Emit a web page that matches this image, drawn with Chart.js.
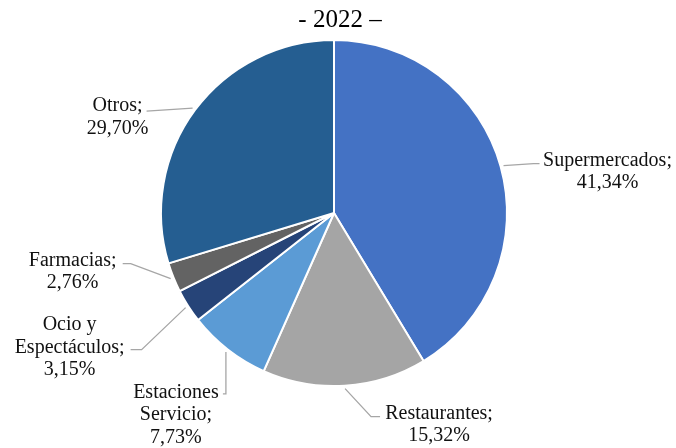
<!DOCTYPE html>
<html>
<head>
<meta charset="utf-8">
<script src="https://cdn.jsdelivr.net/npm/chart.js@4/dist/chart.umd.min.js"></script>
<style>
  html, body { margin: 0; padding: 0; background: #fff; }
  #wrap { width: 676px; height: 448px; }
</style>
</head>
<body>
<div id="wrap"><canvas id="Grafico_gasto" width="676" height="448"></canvas></div>
<script>
// categorías (multilínea como en las etiquetas)
var categorias = [
  ['Supermercados;'],
  ['Restaurantes;'],
  ['Estaciones', 'Servicio;'],
  ['Ocio y', 'Espectáculos;'],
  ['Farmacias;'],
  ['Otros;']
];
var porcentajes = [41.34, 15.32, 7.73, 3.15, 2.76, 29.70];
var colores = ['#4472C4', '#A5A5A5', '#5B9BD5', '#264478', '#636363', '#255E91'];
var subtitulo = '- 2022 –';

// posición de cada etiqueta respecto al punto donde arranca su línea guía
var etiquetas = [
  { text: [104, 6],   path: [[30, -2], [36, -2]] },
  { text: [94, 36],   path: [[26, 28], [35, 28]] },
  { text: [-50, 63],  path: [[0, 42], [-3, 42]] },
  { text: [-116, 40], path: [[-44, 42], [-55, 42]] },
  { text: [-98, -7],  path: [[-40, -15], [-48, -15]] },
  { text: [-75, 9],   path: [[-46, 3]] }
];

function fmt(v) {
  return v.toFixed(2).replace('.', ',') + '%';
}

var etiquetasPlugin = {
  id: 'etiquetasPie',
  afterDatasetsDraw: function (chart) {
    var ctx = chart.ctx;
    var arcs = chart.getDatasetMeta(0).data;
    ctx.save();
    ctx.font = '20px "Liberation Serif", "Times New Roman", serif';
    ctx.textAlign = 'center';
    ctx.textBaseline = 'middle';
    arcs.forEach(function (arc, i) {
      var mid = (arc.startAngle + arc.endAngle) / 2;
      var r = arc.outerRadius + 3;
      var ax = arc.x + Math.cos(mid) * r;
      var ay = arc.y + Math.sin(mid) * r;
      var cfg = etiquetas[i];

      ctx.strokeStyle = '#A6A6A6';
      ctx.lineWidth = 1.3;
      ctx.beginPath();
      ctx.moveTo(ax, ay);
      cfg.path.forEach(function (p) { ctx.lineTo(ax + p[0], ay + p[1]); });
      ctx.stroke();

      var lineas = categorias[i].concat([fmt(porcentajes[i])]);
      var lh = 22.5;
      var cx = ax + cfg.text[0];
      var cy = ay + cfg.text[1] - (lineas.length - 1) * lh / 2;
      ctx.fillStyle = '#111';
      lineas.forEach(function (t, k) {
        ctx.fillText(t, cx, cy + k * lh);
      });
    });

    ctx.font = '25px "Liberation Serif", "Times New Roman", serif';
    ctx.textBaseline = 'alphabetic';
    ctx.fillStyle = '#000';
    ctx.fillText(subtitulo, 340, 27);
    ctx.restore();
  }
};

var ctxPie = document.getElementById('Grafico_gasto').getContext('2d');
var grafico = new Chart(ctxPie, {
  type: 'pie',
  data: {
    labels: categorias,
    datasets: [{
      data: porcentajes,
      backgroundColor: colores,
      borderColor: '#ffffff',
      borderWidth: 2
    }]
  },
  options: {
    responsive: false,
    animation: false,
    layout: { padding: { top: 39, bottom: 61, left: 160, right: 168 } },
    plugins: {
      legend: { display: false },
      tooltip: { enabled: false }
    }
  },
  plugins: [etiquetasPlugin]
});
</script>
</body>
</html>
